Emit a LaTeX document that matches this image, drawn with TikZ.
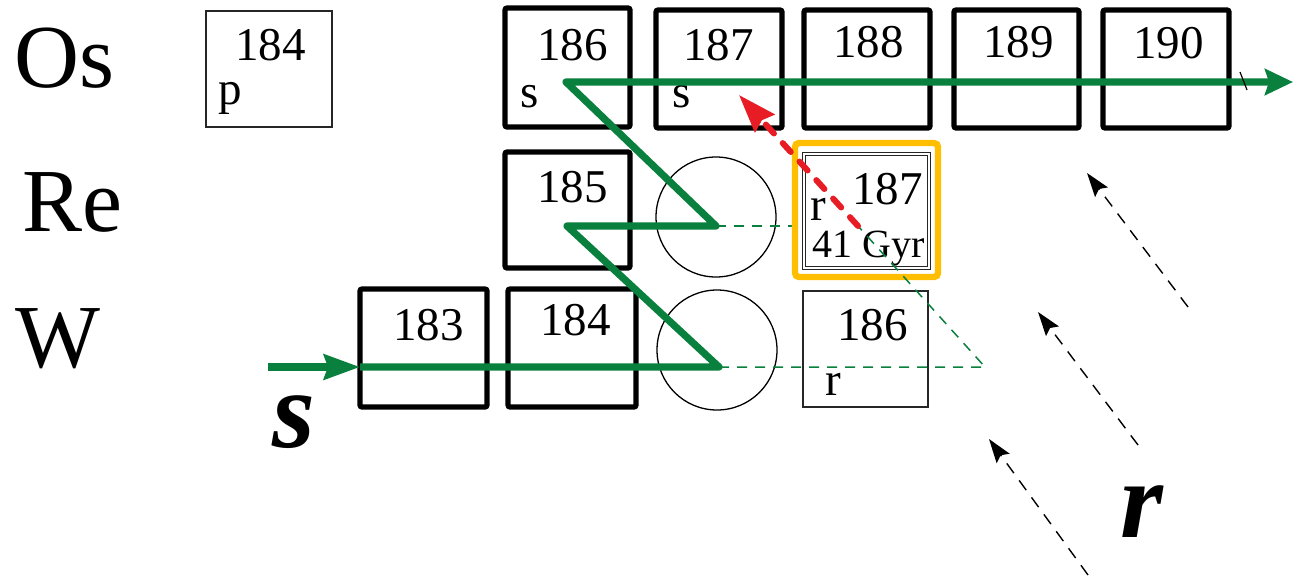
\documentclass[tikz,border=0pt]{standalone}
\usepackage{fontspec}
\setmainfont{LiberationSerif}[Extension=.ttf, UprightFont=*-Regular, BoldFont=*-Bold,
  ItalicFont=*-Italic, BoldItalicFont=*-BoldItalic]
\usetikzlibrary{arrows.meta,fit}
\definecolor{pathgreen}{RGB}{10,128,62}
\definecolor{decayred}{RGB}{232,28,36}
\definecolor{gold}{RGB}{255,190,0}
\tikzset{
  heavybox/.style={draw=black, line width=2.6pt, rounded corners=1pt, inner sep=0pt},
  lightbox/.style={draw=black!85, line width=0.8pt, inner sep=0pt},
  num/.style={anchor=base west, inner sep=0pt, font=\fontsize{23.5}{28}\selectfont},
  smallnum/.style={anchor=base west, inner sep=0pt, font=\fontsize{20}{24}\selectfont},
  elem/.style={anchor=base west, inner sep=0pt, font=\fontsize{45}{54}\selectfont},
  big/.style={anchor=base west, inner sep=0pt, font=\fontsize{55}{66}\selectfont\bfseries\itshape},
  spath/.style={draw=pathgreen, line width=3.6pt, line join=round},
  rdash/.style={draw=pathgreen, line width=0.75pt, dash pattern=on 5pt off 4pt},
  rflux/.style={draw=black, line width=0.7pt, dash pattern=on 6pt off 4.5pt,
    -{Stealth[length=12pt,width=8pt,inset=2pt]}},
  decay/.style={draw=decayred, line width=3pt, line cap=round, dash pattern=on 6pt off 6.5pt,
    -{Stealth[length=19pt,width=13pt,inset=2pt]}},
  ring/.style={draw=black, line width=0.65pt},
}
\begin{document}
\begin{tikzpicture}[x=0.5pt, y=-0.5pt]
\useasboundingbox (0,0) rectangle (1294,579);

% element rows
\node[elem] (os) at (14,87) {Os};
\node[elem] (re) at (22,231) {Re};
\node[elem] (w) at (15,367) {W};

% branching points
\node[ring, circle, minimum size=60pt, inner sep=0pt] (br1) at (716,217) {};
\node[ring, circle, minimum size=60pt, inner sep=0pt] (br2) at (717,350) {};

% path vertices
\coordinate (sIn) at (268,367);
\coordinate (w1) at (360,367);
\coordinate (wV) at (719,367);
\coordinate (reL) at (567,226);
\coordinate (reV) at (716,226);
\coordinate (osL) at (566,82);
\coordinate (sOut) at (1293,82);
\coordinate (rMid) at (858,226);
\coordinate (rEnd) at (985,367);
\coordinate (rTip) at (739,95);

% r-process line hidden behind the Re-187 box
\draw[rdash] (reV) -- (rMid);

% Os row
\node[lightbox, fit={(206,11)(332,127)}] (os184) {};
\node[heavybox, fit={(505,8)(630,127)}] (os186) {};
\node[heavybox, fit={(656,10)(782,128)}] (os187) {};
\node[heavybox, fit={(804,10)(930,128)}] (os188) {};
\node[heavybox, fit={(954,10)(1079,128)}] (os189) {};
\node[heavybox, fit={(1103,10)(1229,128)}] (os190) {};

% Re row
\node[heavybox, fit={(505,152)(630,268)}] (re185) {};
\node[draw=gold, line width=3.2pt, rounded corners=2pt, fill=white, inner sep=0pt,
      fit={(795,143)(938,277)}] (glow) {};
\node[lightbox, line width=0.5pt, fit={(802,152)(930,269)}] (re187) {};
\node[lightbox, line width=0.5pt, fit={(805,155)(927,266)}] (re187in) {};

% W row
\node[heavybox, fit={(360,289)(487,407)}] (w183) {};
\node[heavybox, fit={(508,289)(636,407)}] (w184) {};
\node[lightbox, fit={(803,291)(928,407)}] (w186) {};

% box labels
\node[num] at (235,60) {184};
\node[num] at (218,104) {p};
\node[num] at (537,60) {186};
\node[num] at (520,107) {s};
\node[num] at (683,60) {187};
\node[num] at (672,107) {s};
\node[num] at (833,57) {188};
\node[num] at (983,57) {189};
\node[num] at (1133,58) {190};
\node[num] at (537,202) {185};
\node[num] at (852,204) {187};
\node[num] at (810,220) {r};
\node[smallnum] at (812,257) {41 Gyr};
\node[num] at (393,340) {183};
\node[num] at (540,335) {184};
\node[num] at (837,340) {186};
\node[num] at (825,395) {r};

% process labels
\node[big] (slab) at (272,447) {s};
\node[big] (rlab) at (1120,537) {r};

% r-process feeding lines
\draw[rdash] (wV) -- (rEnd) -- (rMid);

% s-process path
\draw[spath, -{Stealth[length=18pt,width=12.5pt,inset=2pt]}] (sIn) -- (w1);
\draw[spath, -{Stealth[length=14pt,width=13pt,inset=2pt]}]
  (w1) -- (wV) -- (reL) -- (reV) -- (osL) -- (sOut);
\draw[line width=0.6pt] (1240,72) -- (1247,90);

% beta decay of Re-187
\draw[decay] (rMid) -- (rTip);

% neutron-capture flux
\coordinate (f1a) at (1188,307); \coordinate (f1b) at (1087,173);
\coordinate (f2a) at (1138,445); \coordinate (f2b) at (1038,312);
\coordinate (f3a) at (1088,575); \coordinate (f3b) at (989,439);
\draw[rflux] (f1a) -- (f1b);
\draw[rflux] (f2a) -- (f2b);
\draw[rflux] (f3a) -- (f3b);
\end{tikzpicture}
\end{document}
